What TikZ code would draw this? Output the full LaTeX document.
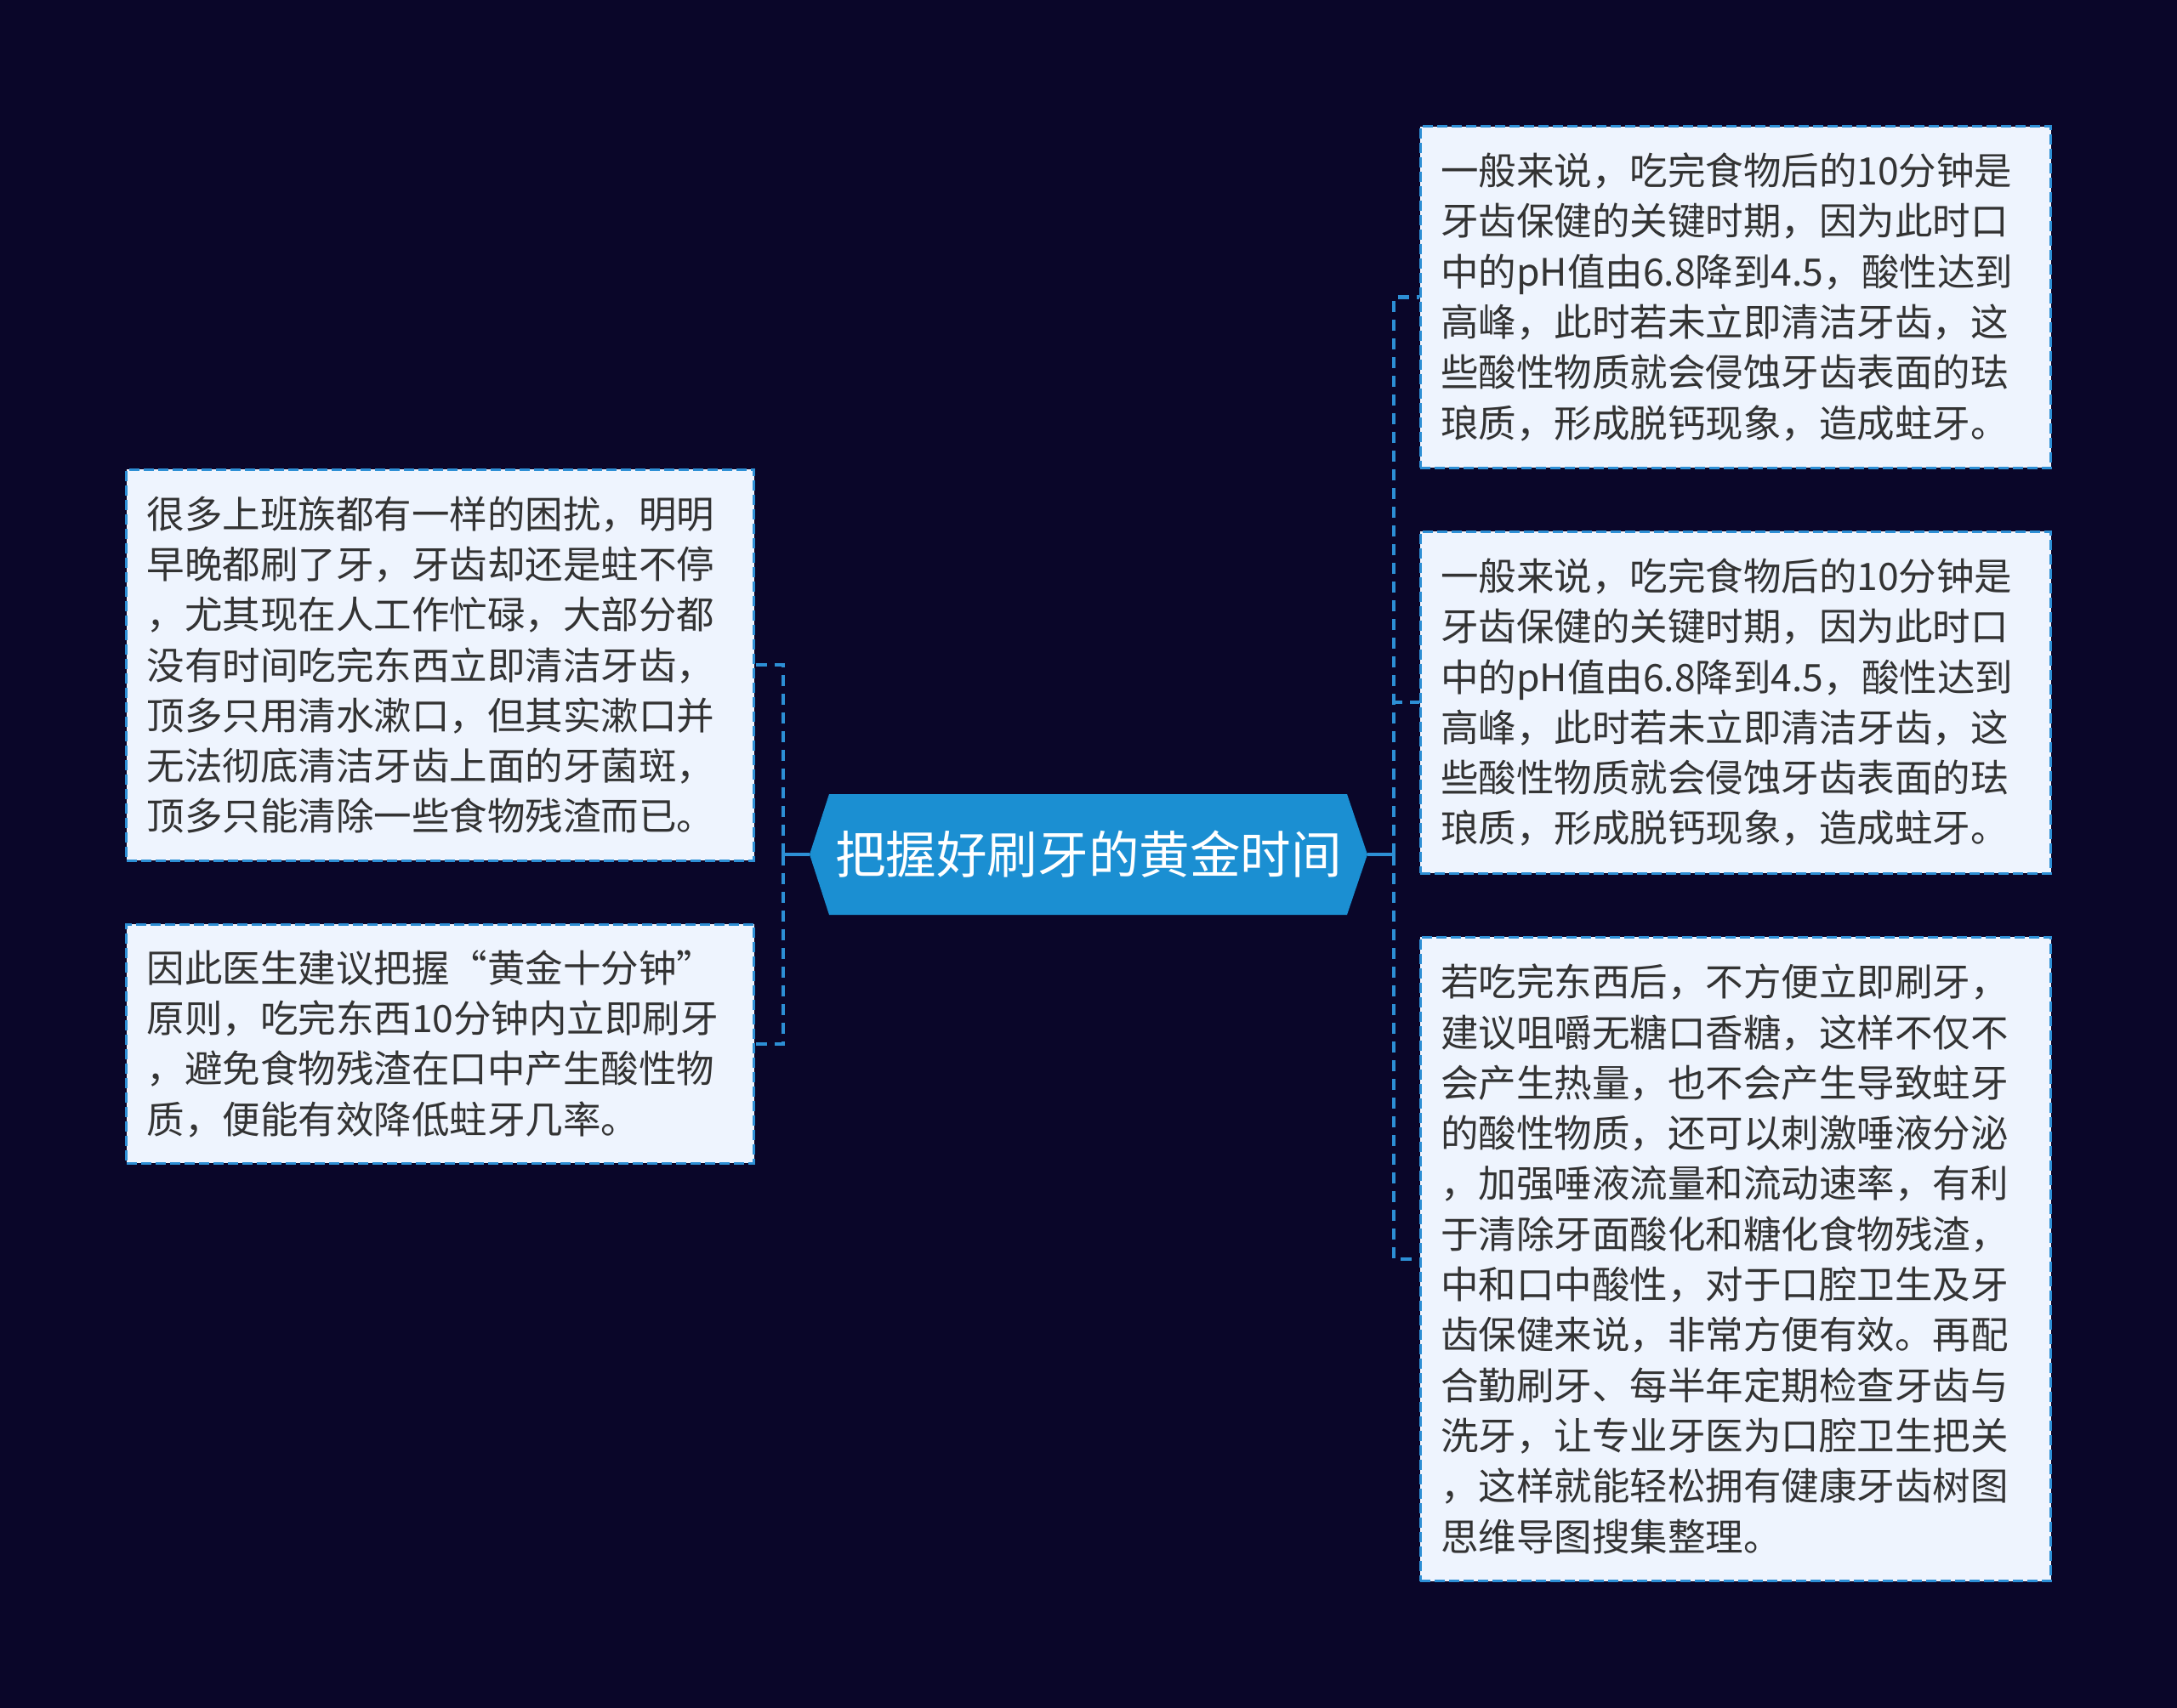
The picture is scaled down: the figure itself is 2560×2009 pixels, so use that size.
\documentclass[tikz,border=0pt]{standalone}
\usepackage{fontspec}
\setmainfont{Noto Sans CJK SC}
\usetikzlibrary{calc}
\definecolor{bgcol}{HTML}{0A0629}
\definecolor{hexcol}{HTML}{1B8FD2}
\definecolor{boxfill}{HTML}{EEF4FE}
\definecolor{boxline}{HTML}{2D8FD5}
\definecolor{txtcol}{HTML}{333333}
\newcommand\boxfont{\fontsize{44.5}{59.3}\selectfont}
\newcommand\centerfont{\fontsize{59.6}{70}\selectfont}
\begin{document}
\begin{tikzpicture}[x=1pt,y=-1pt,
  leafbox/.style={draw=boxline, fill=boxfill, line width=3pt, dash pattern=on 12pt off 5pt,
    inner xsep=24pt, inner ysep=0pt, align=left, text=txtcol, font=\boxfont, anchor=center},
  conn/.style={draw=boxline, line width=4.5pt, dash pattern=on 13pt off 9pt},
  stub/.style={draw=boxline, line width=4.5pt}]
\useasboundingbox[fill=bgcol] (0,0) rectangle (2560,2009);
% central hexagon
\fill[hexcol] (952,1005) -- (975,934) -- (1584,934) -- (1608,1005) -- (1584,1076) -- (975,1076) -- cycle;
\node[minimum width=656pt, minimum height=142pt, inner sep=0pt, text=white, font=\centerfont] (c) at (1280,1005) {把握好刷牙的黄金时间};
\coordinate (tl) at ($(c.west)+(-31,0)$);
\coordinate (tr) at ($(c.east)+(31,0)$);
% left boxes
\node[leafbox, text width=690pt, minimum height=460pt] (l1) at (517.6,782.1) {很多上班族都有一样的困扰，明明\\早晚都刷了牙，牙齿却还是蛀不停\\，尤其现在人工作忙碌，大部分都\\没有时间吃完东西立即清洁牙齿，\\顶多只用清水漱口，但其实漱口并\\无法彻底清洁牙齿上面的牙菌斑，\\顶多只能清除一些食物残渣而已。};
\node[leafbox, text width=690pt, minimum height=281pt] (l2) at (517.6,1227.8) {因此医生建议把握“黄金十分钟”\\原则，吃完东西10分钟内立即刷牙\\，避免食物残渣在口中产生酸性物\\质，便能有效降低蛀牙几率。};
% right boxes
\node[leafbox, text width=693.5pt, minimum height=401.6pt] (r1) at (2040.8,349.4) {一般来说，吃完食物后的10分钟是\\牙齿保健的关键时期，因为此时口\\中的pH值由6.8降到4.5，酸性达到\\高峰，此时若未立即清洁牙齿，这\\些酸性物质就会侵蚀牙齿表面的珐\\琅质，形成脱钙现象，造成蛀牙。};
\node[leafbox, text width=693.5pt, minimum height=401.6pt] (r2) at (2040.8,826.2) {一般来说，吃完食物后的10分钟是\\牙齿保健的关键时期，因为此时口\\中的pH值由6.8降到4.5，酸性达到\\高峰，此时若未立即清洁牙齿，这\\些酸性物质就会侵蚀牙齿表面的珐\\琅质，形成脱钙现象，造成蛀牙。};
\node[leafbox, text width=693.5pt, minimum height=757.6pt] (r3) at (2040.8,1480.8) {若吃完东西后，不方便立即刷牙，\\建议咀嚼无糖口香糖，这样不仅不\\会产生热量，也不会产生导致蛀牙\\的酸性物质，还可以刺激唾液分泌\\，加强唾液流量和流动速率，有利\\于清除牙面酸化和糖化食物残渣，\\中和口中酸性，对于口腔卫生及牙\\齿保健来说，非常方便有效。再配\\合勤刷牙、每半年定期检查牙齿与\\洗牙，让专业牙医为口腔卫生把关\\，这样就能轻松拥有健康牙齿树图\\思维导图搜集整理。};
% connectors
\draw[stub] (c.west) -- (tl);
\draw[stub] (c.east) -- (tr);
\draw[conn] (tl) |- (l1.east);
\draw[conn] (tl) |- (l2.east);
\draw[conn] (tr) |- (r1.west);
\draw[conn] (tr) |- (r2.west);
\draw[conn] (tr) |- (r3.west);
\end{tikzpicture}
\end{document}
